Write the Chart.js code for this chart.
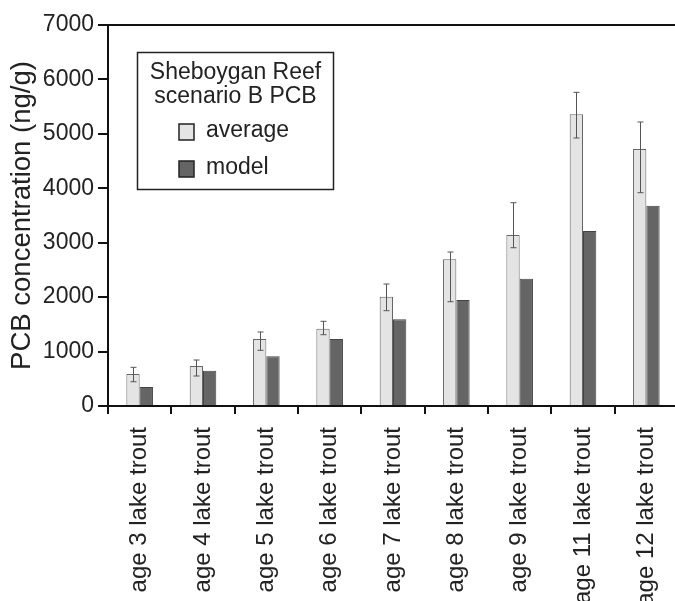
<!DOCTYPE html>
<html><head><meta charset="utf-8">
<script src="https://cdn.jsdelivr.net/npm/chart.js@4/dist/chart.umd.min.js"></script>
<style>
html,body{margin:0;padding:0;overflow:hidden;background:#fff;width:675px;height:601px}
#wrap{width:678px;height:601px;position:relative}
canvas{display:block}
</style></head>
<body><div id="wrap"><canvas id="c" width="678" height="601"></canvas></div>
<script>
const categories = ["age 3 lake trout","age 4 lake trout","age 5 lake trout","age 6 lake trout","age 7 lake trout","age 8 lake trout","age 9 lake trout","age 11 lake trout","age 12 lake trout"];
const averageValues = [588, 735, 1231, 1420, 2008, 2695, 3142, 5359, 4722];
const averageErrHigh = [711, 845, 1360, 1556, 2241, 2829, 3735, 5763, 5218];
const averageErrLow = [446, 551, 1023, 1310, 1751, 1916, 2908, 4924, 3919];
const modelValues = [349, 649, 913, 1231, 1593, 1947, 2339, 3215, 3680];
const yTicks = [0, 1000, 2000, 3000, 4000, 5000, 6000, 7000];
const legendTitle = ["Sheboygan Reef", "scenario B PCB"];
const yTitle = "PCB concentration (ng/g)";

const FONT = "'Liberation Sans', Arial, sans-serif";
const TXT = '#222';

const errorBars = {
  id: 'errorBars',
  afterDatasetsDraw(chart) {
    const ctx = chart.ctx;
    const meta = chart.getDatasetMeta(0);
    const y = chart.scales.y;
    ctx.save();
    ctx.strokeStyle = '#555';
    ctx.lineWidth = 1;
    meta.data.forEach((bar, i) => {
      const x = Math.round(bar.x) + 0.5;
      const yh = y.getPixelForValue(averageErrHigh[i]);
      const yl = y.getPixelForValue(averageErrLow[i]);
      ctx.beginPath();
      ctx.moveTo(x, yh); ctx.lineTo(x, yl);
      ctx.moveTo(x - 3, yh); ctx.lineTo(x + 3, yh);
      ctx.moveTo(x - 3, yl); ctx.lineTo(x + 3, yl);
      ctx.stroke();
    });
    ctx.restore();
  }
};

const frameAndLegend = {
  id: 'frameAndLegend',
  afterDraw(chart) {
    const ctx = chart.ctx;
    const a = chart.chartArea;
    ctx.save();
    ctx.strokeStyle = '#111';
    ctx.lineWidth = 2;
    ctx.beginPath();
    ctx.moveTo(a.left, a.top); ctx.lineTo(chart.width, a.top);
    ctx.stroke();

    // legend box
    const bx = 137.5, by = 52.5, bw = 196, bh = 137;
    ctx.lineWidth = 1.5;
    ctx.strokeStyle = '#222';
    ctx.strokeRect(bx, by, bw, bh);
    ctx.fillStyle = TXT;
    ctx.font = "23px " + FONT;
    ctx.textAlign = 'center';
    ctx.textBaseline = 'middle';
    ctx.fillText(legendTitle[0], bx + bw / 2, 73);
    ctx.fillText(legendTitle[1], bx + bw / 2, 97);
    const ds = chart.data.datasets;
    const rows = [132, 169];
    ds.forEach((d, i) => {
      const sy = rows[i];
      ctx.fillStyle = d.backgroundColor;
      ctx.fillRect(179, sy - 8, 15, 16);
      ctx.strokeStyle = '#222';
      ctx.lineWidth = 1.5;
      ctx.strokeRect(179, sy - 8, 15, 16);
      ctx.fillStyle = TXT;
      ctx.textAlign = 'left';
      ctx.fillText(d.label, 206, sy - 1);
    });
    ctx.restore();
  }
};

new Chart(document.getElementById('c'), {
  type: 'bar',
  data: {
    labels: categories,
    datasets: [
      { label: 'average', data: averageValues, backgroundColor: '#e4e4e4', borderColor: '#666', borderWidth: 1,
        categoryPercentage: 0.42, barPercentage: 1.0 },
      { label: 'model', data: modelValues, backgroundColor: '#656565', borderColor: '#444', borderWidth: 1,
        categoryPercentage: 0.42, barPercentage: 1.0 }
    ]
  },
  options: {
    responsive: false,
    animation: false,
    devicePixelRatio: 1,
    layout: { padding: { top: 25, left: 0, right: 0, bottom: 0 } },
    plugins: { legend: { display: false }, tooltip: { enabled: false } },
    scales: {
      x: {
        border: { color: '#111', width: 2 },
        grid: { drawOnChartArea: false, drawTicks: true, tickLength: 8, color: '#111', lineWidth: 2, offset: true },
        ticks: { color: TXT, font: { family: FONT, size: 24 }, maxRotation: 90, minRotation: 90, autoSkip: false, padding: 13 },
        afterFit(s) { s.height = 195; s.paddingLeft = 0; s.paddingRight = 0; }
      },
      y: {
        min: 0, max: 7000,
        afterBuildTicks(s) { s.ticks = yTicks.map(v => ({ value: v })); },
        border: { color: '#111', width: 2 },
        grid: { drawOnChartArea: false, drawTicks: true, tickLength: 10, color: '#111', lineWidth: 2 },
        ticks: { color: TXT, font: { family: FONT, size: 23 }, padding: 4, callback: v => String(v) },
        title: { display: true, text: yTitle, color: TXT, font: { family: FONT, size: 27.5 }, padding: { top: 6, bottom: 0 } },
        afterFit(s) { s.width = 108; s.paddingTop = 0; s.paddingBottom = 0; }
      }
    }
  },
  plugins: [errorBars, frameAndLegend]
});
</script>
</body></html>
